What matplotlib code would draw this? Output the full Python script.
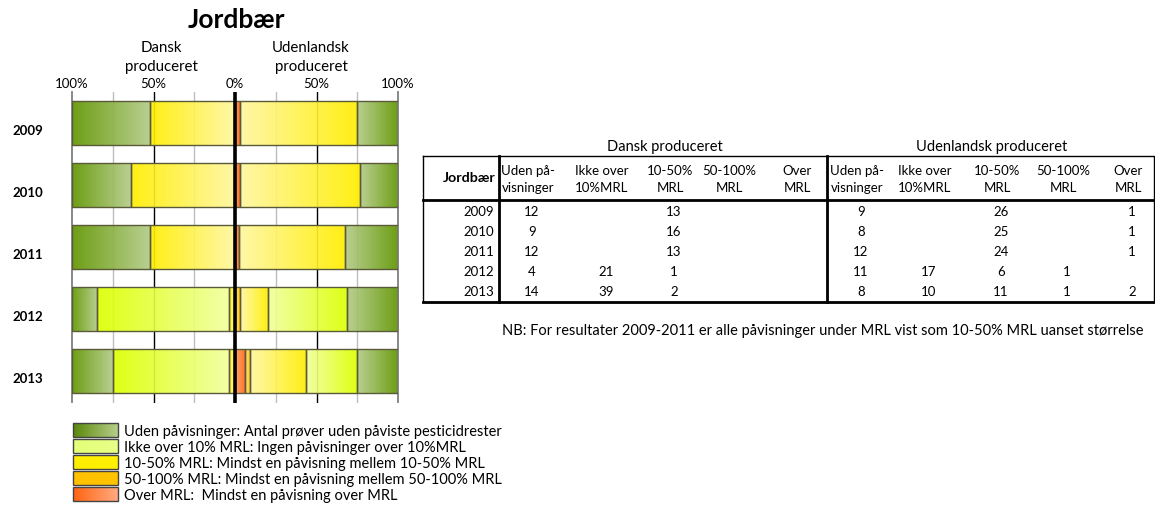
import numpy as np
import matplotlib
matplotlib.use('Agg')
import matplotlib.pyplot as plt
from matplotlib.colors import LinearSegmentedColormap
from matplotlib.patches import Rectangle
from matplotlib.transforms import ScaledTranslation

plt.rcParams['font.family'] = ['Lato', 'DejaVu Sans']

# Data: number of samples per category
years = ['2009', '2010', '2011', '2012', '2013']
dk_uden = [12, 9, 12, 4, 14]
dk_ikke = [0, 0, 0, 21, 39]
dk_10_50 = [13, 16, 13, 1, 2]
dk_50_100 = [0, 0, 0, 0, 0]
dk_over = [0, 0, 0, 0, 0]
ud_uden = [9, 8, 12, 11, 8]
ud_ikke = [0, 0, 0, 17, 10]
ud_10_50 = [26, 25, 24, 6, 11]
ud_50_100 = [0, 0, 0, 1, 1]
ud_over = [1, 1, 1, 0, 2]

col_headers = [('Uden på-', 'visninger'), ('Ikke over', '10%MRL'), ('10-50%', 'MRL'),
               ('50-100%', 'MRL'), ('Over', 'MRL')]
legend_labels = ['Uden påvisninger: Antal prøver uden påviste pesticidrester',
                 'Ikke over 10% MRL: Ingen påvisninger over 10%MRL',
                 '10-50% MRL: Mindst en påvisning mellem 10-50% MRL',
                 '50-100% MRL: Mindst en påvisning mellem 50-100% MRL',
                 'Over MRL:  Mindst en påvisning over MRL']
x_ticks = [-100, -50, 0, 50, 100]
x_ticklabels = ['100%', '50%', '0%', '50%', '100%']

# (outer colour, inner colour) gradients for each category
grad_colors = [('#609600', '#B4CC88'), ('#DCFF00', '#F2FF9E'), ('#FFEE00', '#FFF7A0'),
               ('#FFC000', '#FFE27A'), ('#FF6010', '#FFA060')]
cmaps = [LinearSegmentedColormap.from_list('c%d' % i, c) for i, c in enumerate(grad_colors)]
edge = '#5A5A38'

dk = [dk_uden, dk_ikke, dk_10_50, dk_50_100, dk_over]
ud = [ud_uden, ud_ikke, ud_10_50, ud_50_100, ud_over]

W, H = 1155, 522
fig = plt.figure(figsize=(W / 100, H / 100), dpi=100)

# bar chart axes (pixel box 72..398 x 92..402.5)
ax = fig.add_axes([72 / W, 1 - 402.5 / H, 326 / W, 310.5 / H])
bar_h = 0.71


def draw_side(counts, sign):
    counts = np.array(counts, dtype=float)
    totals = counts.sum(axis=0)
    start = np.zeros(len(years))
    # stacked from the centre outward: over, 50-100, 10-50, ikke, uden
    for k in [4, 3, 2, 1, 0]:
        pct = counts[k] / totals * 100
        for i in range(len(years)):
            if pct[i] == 0:
                continue
            a, b = start[i], start[i] + pct[i]
            x0, x1 = (-b, -a) if sign < 0 else (a, b)
            bar = ax.barh(i, x1 - x0, left=x0, height=bar_h, color='none',
                          edgecolor=edge, linewidth=1, zorder=3)[0]
            grad = np.linspace(0, 1, 128)
            if sign > 0:
                grad = grad[::-1]
            im = ax.imshow(grad[None, :], cmap=cmaps[k], vmin=0, vmax=1,
                           extent=(x0, x1, i + bar_h / 2, i - bar_h / 2),
                           aspect='auto', interpolation='bilinear', alpha=0.92, zorder=2)
            im.set_clip_path(bar)
        start += pct


draw_side(dk, -1)
draw_side(ud, 1)

for x in [-75, -25, 25, 75]:
    ax.axvline(x, color='#BDBDBD', lw=1, zorder=1)
for x in [-50, 50]:
    ax.axvline(x, color='black', lw=1, zorder=1)
ax.axvline(0, color='black', lw=2.6, zorder=6)

ax.set_xlim(-100, 100)
ax.set_ylim(len(years) - 0.5, -0.5)
ax.xaxis.tick_top()
ax.set_xticks(x_ticks)
ax.set_xticklabels(x_ticklabels)
ax.tick_params(axis='x', length=0, pad=1.5, labelsize=9.5)
ax.set_yticks(range(len(years)))
ax.set_yticklabels(years, fontweight='bold', fontsize=9.5)
ax.tick_params(axis='y', length=0, pad=21)
for lab in ax.get_yticklabels():
    lab.set_transform(lab.get_transform() + ScaledTranslation(0, -0.07, fig.dpi_scale_trans))
for s in ['top', 'bottom']:
    ax.spines[s].set_visible(False)
for s in ['left', 'right']:
    ax.spines[s].set_color('#7F7F7F')
    ax.spines[s].set_linewidth(1.3)

# overlay in pixel coordinates for title, table and legend
ov = fig.add_axes([0, 0, 1, 1])
ov.set_xlim(0, W)
ov.set_ylim(H, 0)
ov.axis('off')
ov.patch.set_alpha(0)

ov.text(236, 20, 'Jordbær', ha='center', va='center', fontsize=19, fontweight='bold')
ov.text(161, 48, 'Dansk', ha='center', va='center', fontsize=10.8)
ov.text(161, 67, 'produceret', ha='center', va='center', fontsize=10.8)
ov.text(311, 48, 'Udenlandsk', ha='center', va='center', fontsize=10.8)
ov.text(311, 67, 'produceret', ha='center', va='center', fontsize=10.8)

# table
t_left, t_right, t_top, t_bot, t_head = 423, 1154, 156, 302, 200
ov.plot([t_left, t_right, t_right, t_left, t_left], [t_top, t_top, t_bot, t_bot, t_top],
        color='black', lw=1)
ov.plot([t_left, t_right], [t_bot, t_bot], color='black', lw=2)
ov.plot([t_left, t_right], [t_head, t_head], color='black', lw=2)
ov.plot([499, 499], [t_top, t_bot], color='black', lw=2)
ov.plot([827, 827], [t_top, t_bot], color='black', lw=2)

ov.text(665, 147, 'Dansk produceret', ha='center', va='center', fontsize=10.5)
ov.text(992, 147, 'Udenlandsk produceret', ha='center', va='center', fontsize=10.5)
ov.text(496, 178, 'Jordbær', ha='right', va='center', fontsize=10.3, fontweight='bold')

dk_cols = [528, 602, 670, 729, 797]
ud_cols = [857, 925, 997, 1063, 1128]
for cols in (dk_cols, ud_cols):
    for cx, (l1, l2) in zip(cols, col_headers):
        ov.text(cx, 171, l1, ha='center', va='center', fontsize=9.5)
        ov.text(cx, 188, l2, ha='center', va='center', fontsize=9.5)

for i, yr in enumerate(years):
    ry = 212 + 20 * i
    ov.text(494, ry, yr, ha='right', va='center', fontsize=9.5)
    for cols, series in ((dk_cols, dk), (ud_cols, ud)):
        for cx, s in zip(cols, series):
            if s[i]:
                ov.text(cx + 4, ry, str(s[i]), ha='center', va='center', fontsize=9.5)

ov.text(502, 331, 'NB: For resultater 2009-2011 er alle påvisninger under MRL vist som '
        '10-50% MRL uanset størrelse', ha='left', va='center', fontsize=10.5)

# legend
leg_colors = [('#5A880A', '#B7CE8A'), ('#E4FF78', '#E8FF88'), ('#FFEE00', '#FFF000'),
              ('#FFC000', '#FFC400'), ('#FF6410', '#FFAA80')]
for j, (lab, (c0, c1)) in enumerate(zip(legend_labels, leg_colors)):
    cy = 430 + 16 * j
    cm = LinearSegmentedColormap.from_list('l%d' % j, [c0, c1])
    ov.imshow(np.linspace(0, 1, 64)[None, :], cmap=cm, extent=(73, 118, cy + 7, cy - 7),
              aspect='auto', interpolation='bilinear', zorder=2)
    ov.add_patch(Rectangle((73, cy - 7), 45, 14, fill=False, edgecolor='#444444', lw=1, zorder=3))
    ov.text(124, cy + 2, lab, ha='left', va='center', fontsize=10.5)
ov.set_xlim(0, W)
ov.set_ylim(H, 0)

fig.savefig('out.png', dpi=100)
